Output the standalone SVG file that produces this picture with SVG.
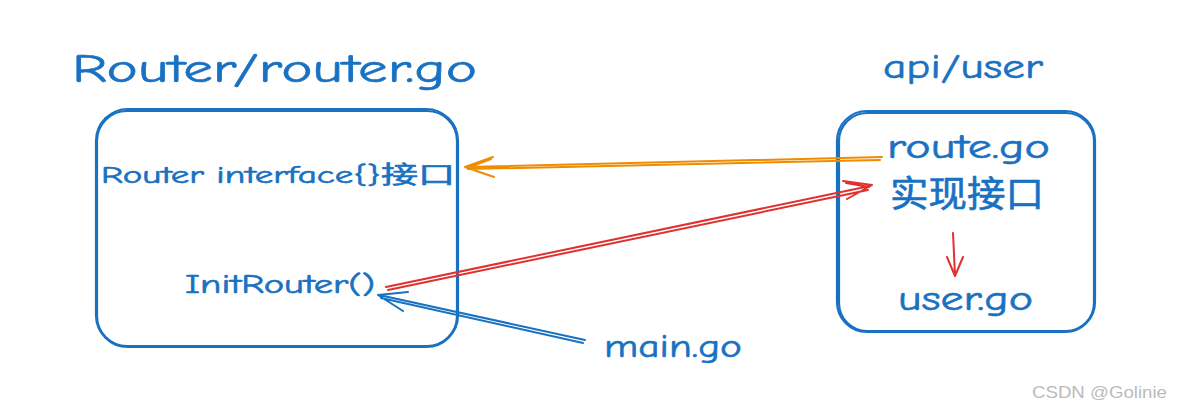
<svg xmlns="http://www.w3.org/2000/svg" width="1177" height="415" viewBox="0 0 1177 415">
<style>
.t{font-family:"Comic Neue","Noto Sans","Noto Sans CJK SC",sans-serif;fill:#1971c2;stroke:#1971c2;stroke-width:0.6}
.box{fill:none;stroke:#1971c2;stroke-width:2.2}
.c{fill:none;stroke-linecap:round;stroke-linejoin:round}
.o{stroke:#f08c00;stroke-width:2}
.r{stroke:#e03131;stroke-width:2}
.b{stroke:#1971c2;stroke-width:2}
</style>
<rect width="1177" height="415" fill="#fff"/>
<g id="router-title"><text class="t" x="72" y="82" font-size="40" textLength="405" lengthAdjust="spacingAndGlyphs" stroke-width="1">Router/router.go</text></g>
<g id="router-box">
<rect class="box" x="96" y="109" width="362" height="238" rx="32"/>
<rect class="box" x="97" y="111" width="360" height="235" rx="30" stroke-width="1.2"/>
<text class="t" x="101" y="183" font-size="24" textLength="354" lengthAdjust="spacingAndGlyphs">Router interface{}接口</text>
<text class="t" x="185" y="293" font-size="26" textLength="190" lengthAdjust="spacingAndGlyphs">InitRouter()</text>
</g>
<g id="api-title"><text class="t" x="883" y="78" font-size="34" textLength="160" lengthAdjust="spacingAndGlyphs">api/user</text></g>
<g id="api-box">
<rect class="box" x="837" y="111" width="258" height="221" rx="30"/>
<rect class="box" x="839" y="113" width="255" height="218" rx="28" stroke-width="1.2"/>
<text class="t" x="887" y="158" font-size="34" textLength="163" lengthAdjust="spacingAndGlyphs">route.go</text>
<text class="t" x="890" y="207" font-size="36" textLength="154" lengthAdjust="spacingAndGlyphs">实现接口</text>
<text class="t" x="898" y="310" font-size="34" textLength="135" lengthAdjust="spacingAndGlyphs">user.go</text>
</g>
<g id="main"><text class="t" x="604" y="357" font-size="32" textLength="138" lengthAdjust="spacingAndGlyphs">main.go</text></g>
<g id="connectors">
<path class="c o" d="M882 157 L465 167 M880 160 L468 169 M493 157 L465 167 L494 177 M491 159 L467 168"/>
<path class="c r" d="M386 287 L870 186 M388 290 L868 190 M843 181 L872 185 L847 199 M846 183 L869 187" stroke-width="2.4"/>
<path class="c b" d="M585 340 L379 295 M583 343 L381 298 M408 292 L378 295 L403 311"/>
<path class="c r" d="M953 233 L955 275 M947 257 L955 276 L963 257"/>
</g>
<text x="1032" y="398" font-family="Liberation Sans,sans-serif" font-size="17" fill="#bbbbbb" textLength="135" lengthAdjust="spacingAndGlyphs">CSDN @Golinie</text>
</svg>
